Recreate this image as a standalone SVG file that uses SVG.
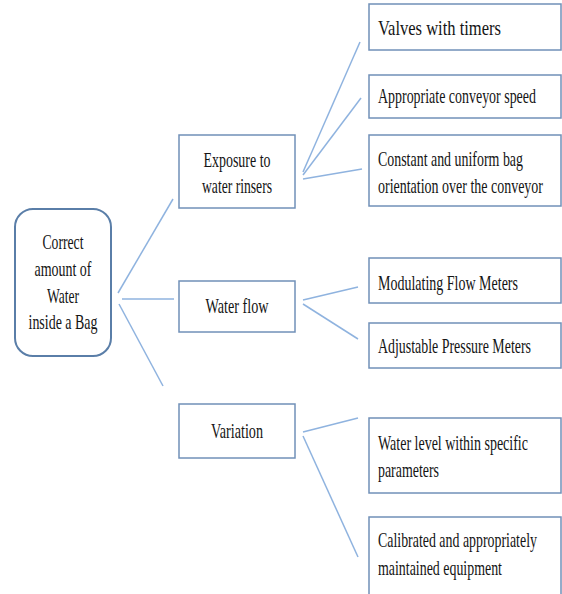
<svg xmlns="http://www.w3.org/2000/svg" width="562" height="594" viewBox="0 0 562 594">
<style>
.box{fill:#fff;stroke:#7090b8;stroke-width:1.5}
.root{fill:#fff;stroke:#5a7ea8;stroke-width:2}
.t{font-family:"Liberation Serif","DejaVu Serif","Times New Roman",serif;font-size:20px;fill:#141414}
.c{text-anchor:middle}
.ln{stroke:#8fb3df;stroke-width:1.5;fill:none}
</style>
<rect width="562" height="594" fill="#fff"/>
<g id="connectors">
<line class="ln" x1="118" y1="293" x2="173" y2="199"/>
<line class="ln" x1="122" y1="299" x2="174" y2="299"/>
<line class="ln" x1="119" y1="304" x2="163" y2="386"/>
<line class="ln" x1="303" y1="172" x2="360" y2="42"/>
<line class="ln" x1="303" y1="175" x2="361" y2="98"/>
<line class="ln" x1="303" y1="179" x2="362" y2="169"/>
<line class="ln" x1="303" y1="300" x2="358" y2="287"/>
<line class="ln" x1="303" y1="304" x2="358" y2="339"/>
<line class="ln" x1="303" y1="432" x2="358" y2="418"/>
<line class="ln" x1="303" y1="436" x2="358" y2="557"/>
</g>
<g id="root">
<rect class="root" x="15" y="209" width="96" height="147" rx="18"/>
<g transform="scale(0.72,1)">
<text class="t c" x="87.5" y="249" textLength="56.9" lengthAdjust="spacingAndGlyphs">Correct</text>
<text class="t c" x="87.5" y="276" textLength="79.2" lengthAdjust="spacingAndGlyphs">amount of</text>
<text class="t c" x="87.5" y="303" textLength="44.4" lengthAdjust="spacingAndGlyphs">Water</text>
<text class="t c" x="87.5" y="329" textLength="95.8" lengthAdjust="spacingAndGlyphs">inside a Bag</text>
</g>
</g>
<g id="exposure">
<rect class="box" x="179" y="135" width="116" height="73"/>
<g transform="scale(0.72,1)">
<text class="t c" x="329.2" y="167" textLength="93.1" lengthAdjust="spacingAndGlyphs">Exposure to</text>
<text class="t c" x="329.2" y="193" textLength="97.2" lengthAdjust="spacingAndGlyphs">water rinsers</text>
</g>
</g>
<g id="waterflow">
<rect class="box" x="179" y="281" width="116" height="51"/>
<g transform="scale(0.72,1)">
<text class="t c" x="329.2" y="313" textLength="87.5" lengthAdjust="spacingAndGlyphs">Water flow</text>
</g>
</g>
<g id="variation">
<rect class="box" x="179" y="404" width="116" height="54"/>
<g transform="scale(0.72,1)">
<text class="t c" x="329.2" y="438" textLength="72.2" lengthAdjust="spacingAndGlyphs">Variation</text>
</g>
</g>
<g id="valves">
<rect class="box" x="369" y="4" width="192" height="46"/>
<g transform="scale(0.72,1)">
<text class="t" x="525" y="35" textLength="170.8" lengthAdjust="spacingAndGlyphs">Valves with timers</text>
</g>
</g>
<g id="conveyor">
<rect class="box" x="369" y="75" width="192" height="43"/>
<g transform="scale(0.72,1)">
<text class="t" x="525" y="103" textLength="219.4" lengthAdjust="spacingAndGlyphs">Appropriate conveyor speed</text>
</g>
</g>
<g id="orientation">
<rect class="box" x="369" y="135" width="192" height="71"/>
<g transform="scale(0.72,1)">
<text class="t" x="525" y="166" textLength="201.4" lengthAdjust="spacingAndGlyphs">Constant and uniform bag</text>
<text class="t" x="525" y="193" textLength="229.2" lengthAdjust="spacingAndGlyphs">orientation over the conveyor</text>
</g>
</g>
<g id="flowmeters">
<rect class="box" x="369" y="258" width="192" height="45"/>
<g transform="scale(0.72,1)">
<text class="t" x="525" y="290" textLength="194.4" lengthAdjust="spacingAndGlyphs">Modulating Flow Meters</text>
</g>
</g>
<g id="pressuremeters">
<rect class="box" x="369" y="323" width="192" height="45"/>
<g transform="scale(0.72,1)">
<text class="t" x="525" y="353" textLength="212.5" lengthAdjust="spacingAndGlyphs">Adjustable Pressure Meters</text>
</g>
</g>
<g id="waterlevel">
<rect class="box" x="369" y="418" width="192" height="75"/>
<g transform="scale(0.72,1)">
<text class="t" x="525" y="450" textLength="208.3" lengthAdjust="spacingAndGlyphs">Water level within specific</text>
<text class="t" x="525" y="477" textLength="84.7" lengthAdjust="spacingAndGlyphs">parameters</text>
</g>
</g>
<g id="calibrated">
<rect class="box" x="369" y="517" width="192" height="90"/>
<g transform="scale(0.72,1)">
<text class="t" x="525" y="547" textLength="220.8" lengthAdjust="spacingAndGlyphs">Calibrated and appropriately</text>
<text class="t" x="525" y="575" textLength="172.2" lengthAdjust="spacingAndGlyphs">maintained equipment</text>
</g>
</g>
</svg>
